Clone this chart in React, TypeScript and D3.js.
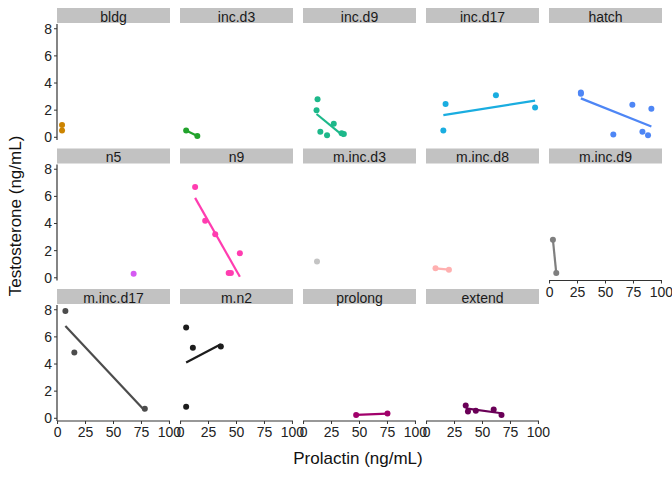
import * as d3 from 'd3';

const PANELS = ['bldg', 'inc.d3', 'inc.d9', 'inc.d17', 'hatch', 'n5', 'n9', 'm.inc.d3', 'm.inc.d8', 'm.inc.d9', 'm.inc.d17', 'm.n2', 'prolong', 'extend'];
const COLORS = ['#CC8400', '#22A32C', '#1DB88A', '#1AADE0', '#4E86F5', '#D55AF2', '#FF3DB0', '#C4C4C4', '#FFB0B0', '#7F7F7F', '#4C4C4C', '#1C1C1C', '#A1006B', '#6A0057'];
const PRL: number[][] = [
  [4, 4], [5, 15], [12.5, 11.6, 15, 21, 27, 34, 36], [15, 17, 62, 97],
  [28, 28, 57, 74, 83, 88, 91], [68], [13, 22, 31, 43, 45, 53], [12],
  [8, 20], [3, 6], [7, 15, 78], [5, 11, 36, 5], [47, 75], [35, 37, 44, 60, 67],
];
const TESTO: number[][] = [
  [0.9, 0.5], [0.5, 0.1], [2.8, 2.0, 0.4, 0.15, 1.0, 0.3, 0.25], [0.5, 2.45, 3.1, 2.2],
  [3.3, 3.2, 0.2, 2.4, 0.4, 0.15, 2.1], [0.3], [6.7, 4.2, 3.2, 0.35, 0.35, 1.8], [1.2],
  [0.7, 0.6], [2.8, 0.35], [7.9, 4.85, 0.7], [6.7, 5.2, 5.3, 0.85], [0.25, 0.35], [0.95, 0.5, 0.55, 0.65, 0.25],
];
const X_TICKS = [0, 25, 50, 75, 100];
const Y_TICKS = [0, 2, 4, 6, 8];

const PW = 113, PH = 116, STRIP = 15, COLSTEP = 123, ROWSTEP = 140.5;
const X0 = 57, Y0 = 8;

function fit(xs: number[], ys: number[]) {
  const mx = d3.mean(xs)!, my = d3.mean(ys)!;
  let sxy = 0, sxx = 0;
  xs.forEach((x, i) => { sxy += (x - mx) * (ys[i] - my); sxx += (x - mx) ** 2; });
  if (sxx === 0) return null;
  const b = sxy / sxx;
  const [lo, hi] = d3.extent(xs) as [number, number];
  return [[lo, my + b * (lo - mx)], [hi, my + b * (hi - mx)]];
}

export default function App() {
  const x = d3.scaleLinear().domain([-0.5, 100.5]).range([0, PW]);
  const y = d3.scaleLinear().domain([-0.2, 8.35]).range([PH, 0]);
  const font = 'Liberation Sans, Arial, sans-serif';
  return (
    <svg width={672} height={480} style={{ position: 'absolute', left: 0, top: 0 }} fontFamily={font}>
      <rect width={672} height={480} fill="#fff" />
      {PANELS.map((name, i) => {
        const col = i % 5, row = Math.floor(i / 5);
        const tx = X0 + col * COLSTEP, ty = Y0 + row * ROWSTEP;
        const showX = i + 5 >= PANELS.length;
        const l = fit(PRL[i], TESTO[i]);
        return (
          <g key={name} transform={`translate(${tx},${ty})`}>
            <rect x={0} y={0} width={PW} height={STRIP} fill="#C2C2C2" />
            <text x={PW / 2} y={STRIP - 1.5} textAnchor="middle" fontSize={14} fill="#1a1a1a">{name}</text>
            <g transform={`translate(0,${STRIP + 1})`}>
              {col === 0 && (
                <g>
                  <line x1={0} x2={0} y1={0} y2={PH} stroke="#333" strokeWidth={1.2} />
                  {Y_TICKS.map(t => (
                    <g key={t} transform={`translate(0,${y(t)})`}>
                      <line x1={-3} x2={0} stroke="#333" />
                      <text x={-5} dy="0.35em" textAnchor="end" fontSize={14} fill="#222">{t}</text>
                    </g>
                  ))}
                </g>
              )}
              {showX && (
                <g transform={`translate(0,${PH})`}>
                  <line x1={0} x2={PW} stroke="#333" strokeWidth={1.2} />
                  {X_TICKS.map(t => (
                    <g key={t} transform={`translate(${x(t)},0)`}>
                      <line y1={0} y2={3} stroke="#333" />
                      <text y={16} textAnchor="middle" fontSize={14} fill="#222">{t}</text>
                    </g>
                  ))}
                </g>
              )}
              {l && (
                <line x1={x(l[0][0])} y1={y(l[0][1])} x2={x(l[1][0])} y2={y(l[1][1])}
                  stroke={COLORS[i]} strokeWidth={2.2} />
              )}
              {PRL[i].map((p, j) => (
                <circle key={j} cx={x(p)} cy={y(TESTO[i][j])} r={3} fill={COLORS[i]} />
              ))}
            </g>
          </g>
        );
      })}
      <text x={358} y={464} textAnchor="middle" fontSize={17} fill="#111">Prolactin (ng/mL)</text>
      <text transform="translate(21,216) rotate(-90)" textAnchor="middle" fontSize={17} fill="#111">Testosterone (ng/mL)</text>
    </svg>
  );
}
